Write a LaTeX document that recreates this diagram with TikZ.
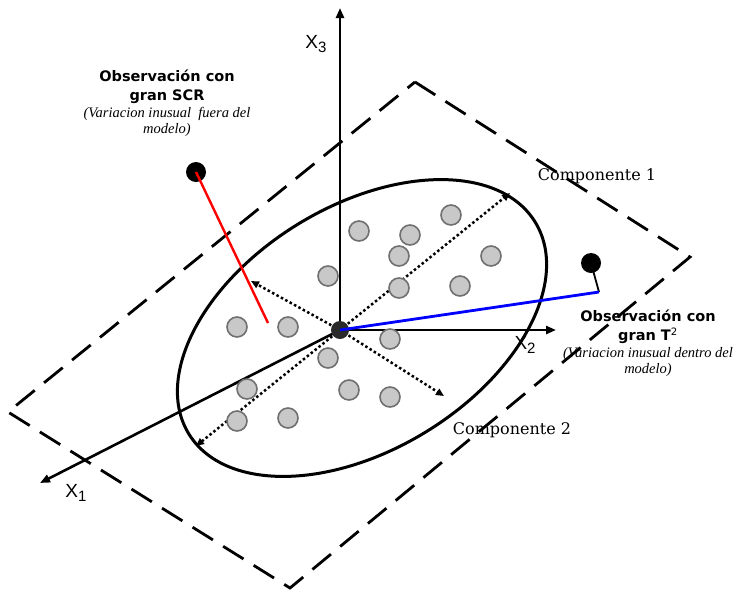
\documentclass[tikz,border=0pt]{standalone}
\usepackage{fontspec}
\setmainfont{DejaVu Serif}
\newfontfamily\axisfont{Liberation Sans}
\newfontfamily\titlefont{DejaVu Sans}
\newfontfamily\notefont{Liberation Serif}
\usepackage{tikz}
\usetikzlibrary{positioning, arrows.meta, shapes.geometric}
\definecolor{ink}{HTML}{000000}
\definecolor{dotfill}{HTML}{C8C8C8}
\definecolor{dotedge}{HTML}{707070}
\definecolor{centre}{HTML}{2A2A2A}
\definecolor{scrline}{HTML}{FF0000}
\definecolor{tline}{HTML}{0000FF}
\tikzset{
  plane/.style    = {draw=ink, line width=2.8pt, dash pattern=on 24pt off 12pt},
  axis/.style     = {-{Triangle[length=10pt,width=8pt]}, line width=2.6pt, draw=ink},
  pcdir/.style    = {-{Triangle[length=8pt,width=7pt]}, line width=2.5pt, draw=ink,
                     dash pattern=on 2.5pt off 2.5pt},
  cloud/.style    = {ellipse, draw=ink, line width=3pt, inner sep=0pt,
                     minimum width=406pt, minimum height=244pt},
  obs/.style      = {circle, draw=dotedge, line width=1.6pt, fill=dotfill,
                     inner sep=0pt, minimum size=20pt},
  outlier/.style  = {circle, fill=ink, inner sep=0pt, minimum size=20pt},
  axislabel/.style= {font=\axisfont\fontsize{19}{19}\selectfont},
  obstitle/.style = {align=center, inner sep=0pt,
                     font=\titlefont\bfseries\fontsize{14.5}{18.5}\selectfont},
  obsnote/.style  = {align=center, inner sep=0pt,
                     font=\notefont\itshape\fontsize{14.5}{16}\selectfont},
  complabel/.style= {font=\fontsize{16}{16}\selectfont},
}
\newcommand{\axsub}[1]{\raisebox{-4.5pt}{\fontsize{15}{15}\selectfont #1}}

\begin{document}
\begin{tikzpicture}[x=1pt, y=-1pt]
  \useasboundingbox (0,0) rectangle (735,590);

  \coordinate (O) at (340,330);
  \coordinate (planeT) at (415,82);
  \coordinate (planeR) at (690,257);
  \coordinate (planeB) at (290,588);
  \coordinate (planeL) at (8,412);
  \draw[plane] (planeT) -- (planeR) -- (planeB) -- (planeL) -- cycle;

  \coordinate (x1tip) at (40,483);
  \coordinate (x2tip) at (556,330);
  \coordinate (x3tip) at (340,8);
  \draw[axis] (O) -- (x1tip);
  \draw[axis] (O) -- (x2tip);
  \draw[axis] (O) -- (x3tip);
  \node[axislabel] (x1) at (76,493) {X\axsub{1}};
  \node[axislabel] (x2) at (525,345) {X\axsub{2}};
  \node[axislabel] (x3) at (316,44) {X\axsub{3}};

  \node[cloud, rotate=31.4] (ell) at (362,328) {};

  \coordinate (pc1a) at (510,193);
  \coordinate (pc1b) at (196,446);
  \coordinate (pc2a) at (251,281);
  \coordinate (pc2b) at (444,396);
  \draw[pcdir] (O) -- (pc1a);
  \draw[pcdir] (O) -- (pc1b);
  \draw[pcdir] (O) -- (pc2a);
  \draw[pcdir] (O) -- (pc2b);

  \node[obs] (p1) at (451,215) {};  \node[obs] (p2) at (359,231) {};
  \node[obs] (p3) at (410,235) {};  \node[obs] (p4) at (399,256) {};
  \node[obs] (p5) at (491,256) {};  \node[obs] (p6) at (328,276) {};
  \node[obs] (p7) at (399,288) {};  \node[obs] (p8) at (460,286) {};
  \node[obs] (p9) at (237,327) {};  \node[obs] (p10) at (288,327) {};
  \node[obs] (p11) at (390,339) {}; \node[obs] (p12) at (328,358) {};
  \node[obs] (p13) at (247,389) {}; \node[obs] (p14) at (349,390) {};
  \node[obs] (p15) at (390,397) {}; \node[obs] (p16) at (237,421) {};
  \node[obs] (p17) at (288,418) {};

  \coordinate (scrfoot) at (268,323);
  \node[outlier] (scr) at (196,172) {};
  \draw[scrline, line width=2.4pt] (scr.center) -- (scrfoot);

  \node[circle, fill=centre, inner sep=0pt, minimum size=18pt] (Odot) at (O) {};

  \coordinate (tfoot) at (599,292);
  \node[outlier] (t2) at (591,263) {};
  \draw[ink, line width=1.8pt] (t2.center) -- (tfoot);
  \draw[tline, line width=2.8pt] (Odot.center) -- (tfoot);

  \node[obstitle] (scrtitle) at (167,87) {Observación con\\gran SCR};
  \node[obsnote, below=3pt of scrtitle] (scrnote) {(Variacion inusual\ \ fuera del\\modelo)};
  \node[obstitle] (t2title) at (648,327) {Observación con\\gran T\textsuperscript{\mdseries 2}};
  \node[obsnote, below=3pt of t2title] (t2note) {(Variacion inusual dentro del\\modelo)};

  \node[complabel] (comp1) at (597,176) {Componente 1};
  \node[complabel] (comp2) at (512,430) {Componente 2};
\end{tikzpicture}
\end{document}
